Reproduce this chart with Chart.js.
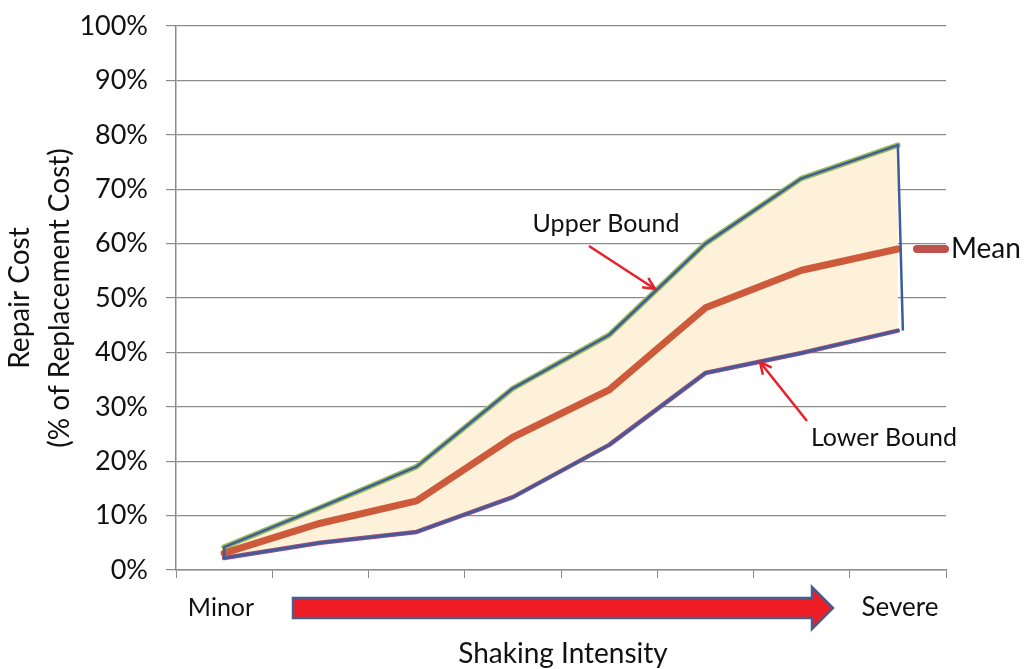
<!DOCTYPE html>
<html>
<head>
<meta charset="utf-8">
<script src="https://cdn.jsdelivr.net/npm/chart.js@4"></script>
<style>
  html, body { margin: 0; padding: 0; background: #fff; }
</style>
</head>
<body>
<canvas id="chart" width="1024" height="669"></canvas>
<script>
// eight steps of shaking, minor -> severe
var levels = ['', '', '', '', '', '', '', ''];
var upperBound = [4.2, 11.5, 19, 33.4, 43.2, 60, 72, 78.1];
var meanCost = [3.1, 8.6, 12.7, 24.4, 33.1, 48.2, 55.1, 59];
var lowerBound = [2.2, 5, 7, 13.4, 23, 36.2, 39.9, 44];
var yTicks = [0, 10, 20, 30, 40, 50, 60, 70, 80, 90, 100];

var FONT = 'Lato, "Open Sans", sans-serif';
var BLUE = '#3e5c9c';

// closes the band at both ends and draws the notes around the chart
var extras = {
    id: 'extras',
    afterDatasetsDraw: function (chart) {
        var c = chart.ctx, x = chart.scales.x, y = chart.scales.y;
        c.save();
        c.strokeStyle = BLUE;
        c.lineWidth = 2.5;
        [0, levels.length - 1].forEach(function (i) {
            c.beginPath();
            c.moveTo(x.getPixelForValue(i), y.getPixelForValue(upperBound[i]));
            c.lineTo(x.getPixelForValue(i) + (i ? 5 : 0), y.getPixelForValue(lowerBound[i]));
            c.stroke();
        });
        c.restore();
    },
    afterDraw: function (chart) {
        var c = chart.ctx;
        c.save();
        c.fillStyle = '#111';
        c.textAlign = 'center';
        c.textBaseline = 'middle';
        c.font = '25px ' + FONT;
        c.fillText('Upper Bound', 606, 224);
        c.fillText('Lower Bound', 884, 438);
        c.fillText('Minor', 221, 608);
        c.font = '26px ' + FONT;
        c.fillText('Severe', 900, 608);
        c.font = '28px ' + FONT;
        c.fillText('Shaking Intensity', 563, 654);
        c.textAlign = 'left';
        c.fillText('Mean', 951, 249);

        // mean legend swatch
        c.strokeStyle = '#c0504d';
        c.lineWidth = 8;
        c.lineCap = 'round';
        c.beginPath(); c.moveTo(917, 249); c.lineTo(945, 249); c.stroke();

        // small pointer arrows
        function pointer(x0, y0, x1, y1) {
            var a = Math.atan2(y1 - y0, x1 - x0), h = 13;
            c.strokeStyle = '#e8202a';
            c.lineWidth = 2.5;
            c.lineCap = 'butt';
            c.beginPath(); c.moveTo(x0, y0); c.lineTo(x1, y1); c.stroke();
            c.beginPath();
            c.moveTo(x1 - h * Math.cos(a - 0.45), y1 - h * Math.sin(a - 0.45));
            c.lineTo(x1, y1);
            c.lineTo(x1 - h * Math.cos(a + 0.45), y1 - h * Math.sin(a + 0.45));
            c.stroke();
        }
        pointer(589, 246, 655, 289);
        pointer(807, 421, 760, 362);

        // big intensity arrow
        c.fillStyle = '#ee1c24';
        c.strokeStyle = '#4b5b8c';
        c.lineWidth = 2.5;
        c.lineJoin = 'miter';
        c.beginPath();
        c.moveTo(293, 598);
        c.lineTo(812, 598);
        c.lineTo(812, 587);
        c.lineTo(833, 608);
        c.lineTo(812, 629);
        c.lineTo(812, 618);
        c.lineTo(293, 618);
        c.closePath();
        c.fill();
        c.stroke();
        c.restore();
    }
};

// Chart.js paints datasets from last to first, so the top layer comes first here
var ctx = document.getElementById('chart').getContext('2d');
var myChart = new Chart(ctx, {
    type: 'line',
    data: {
        labels: levels,
        datasets: [
            {
                label: 'Mean',
                data: meanCost,
                borderColor: '#cd5b3b',
                borderWidth: 7,
                fill: false
            },
            {
                label: 'Upper Bound',
                data: upperBound,
                borderColor: BLUE,
                borderWidth: 2.5,
                fill: false
            },
            {
                label: 'Lower Bound',
                data: lowerBound,
                borderColor: BLUE,
                borderWidth: 2.5,
                fill: false
            },
            {
                label: 'Upper Bound shadow',
                data: upperBound,
                borderColor: '#9bbb59',
                borderWidth: 5.5,
                backgroundColor: '#fdf1da',
                fill: '+1'
            },
            {
                label: 'Lower Bound shadow',
                data: lowerBound,
                borderColor: '#9a4f7a',
                borderWidth: 4.5,
                fill: false
            }
        ]
    },
    options: {
        responsive: false,
        animation: false,
        devicePixelRatio: 1,
        layout: { padding: { top: 26, right: 78, left: 0, bottom: 0 } },
        elements: {
            point: { radius: 0, hoverRadius: 0 },
            line: { tension: 0, borderJoinStyle: 'round', borderCapStyle: 'round' }
        },
        plugins: {
            legend: { display: false },
            tooltip: { enabled: false },
            filler: { drawTime: 'beforeDatasetsDraw' }
        },
        scales: {
            x: {
                offset: true,
                afterFit: function (s) { s.height = 99; },
                grid: { offset: true, drawOnChartArea: false, tickLength: 8, color: '#8c8c8c' },
                border: { color: '#8c8c8c', width: 1.5 },
                ticks: { display: false }
            },
            y: {
                min: 0,
                max: 100,
                afterFit: function (s) {
                    s.width = 176;
                    s.paddingTop = 0;
                    s.paddingBottom = 0;
                },
                afterBuildTicks: function (s) {
                    s.ticks = yTicks.map(function (v) { return { value: v }; });
                },
                grid: { color: '#8c8c8c', lineWidth: 1.2, tickLength: 10 },
                border: { color: '#8c8c8c', width: 1.5 },
                ticks: {
                    color: '#111',
                    padding: 18,
                    font: { family: FONT, size: 27 },
                    callback: function (v) { return v + '%'; }
                },
                title: {
                    display: true,
                    text: ['Repair Cost', '(% of Replacement Cost)'],
                    color: '#111',
                    font: { family: FONT, size: 28, lineHeight: 1.43 },
                    padding: { top: 0, bottom: 0 }
                }
            }
        }
    },
    plugins: [extras]
});
</script>
</body>
</html>
